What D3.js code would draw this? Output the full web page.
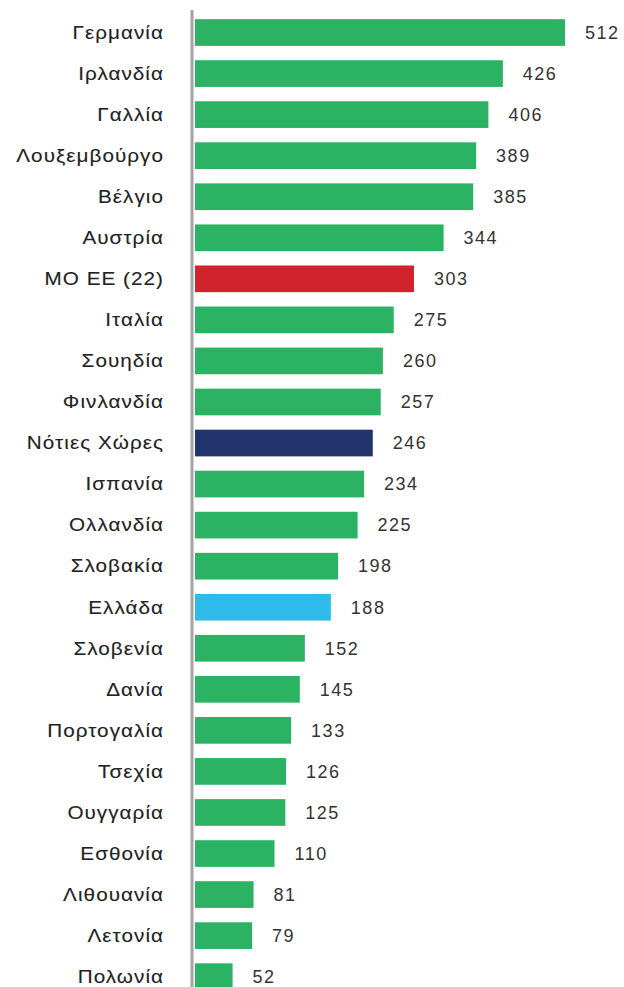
<!DOCTYPE html>
<html><head><meta charset="utf-8">
<script src="https://cdn.jsdelivr.net/npm/d3@7"></script>
<style>
html,body{margin:0;padding:0;background:#fff;}
svg{display:block;}
text{font-family:"Liberation Sans",Arial,sans-serif;}
</style></head>
<body>
<svg id="chart" width="624" height="987"></svg>
<script>
const categories = ["Γερμανία","Ιρλανδία","Γαλλία","Λουξεμβούργο","Βέλγιο","Αυστρία","ΜΟ ΕΕ (22)","Ιταλία","Σουηδία","Φινλανδία","Νότιες Χώρες","Ισπανία","Ολλανδία","Σλοβακία","Ελλάδα","Σλοβενία","Δανία","Πορτογαλία","Τσεχία","Ουγγαρία","Εσθονία","Λιθουανία","Λετονία","Πολωνία"];
const values = [512,426,406,389,385,344,303,275,260,257,246,234,225,198,188,152,145,133,126,125,110,81,79,52];
const colors = ["#2bb262","#2bb262","#2bb262","#2bb262","#2bb262","#2bb262","#d0232b","#2bb262","#2bb262","#2bb262","#22346c","#2bb262","#2bb262","#2bb262","#2ebbea","#2bb262","#2bb262","#2bb262","#2bb262","#2bb262","#2bb262","#2bb262","#2bb262","#2bb262"];

const svg = d3.select("#chart");
const x0 = 195;
const x = d3.scaleLinear().domain([0,512]).range([x0,565]);
const step = 41.05;
const y = d3.scaleBand().domain(categories).range([12, 12+step*categories.length]).paddingInner(0.35).paddingOuter(0.175);

svg.selectAll("rect.bar").data(values).join("rect")
  .attr("class","bar")
  .attr("x", x(0))
  .attr("y", (d,i)=>y(categories[i]))
  .attr("width", d=>x(d)-x(0))
  .attr("height", y.bandwidth())
  .attr("fill", (d,i)=>colors[i]);

svg.append("line").attr("x1",192).attr("x2",192).attr("y1",10).attr("y2",987)
  .attr("stroke","#a3a3a3").attr("stroke-width",3);

svg.selectAll("g.cat").data(categories).join("g")
  .attr("class","cat")
  .attr("transform", d=>`translate(164,${y(d)+y.bandwidth()/2}) scale(1.15,1)`)
  .append("text")
  .attr("x",0)
  .attr("dy","0.35em")
  .attr("text-anchor","end")
  .attr("font-size",18)
  .attr("letter-spacing","0.9px")
  .attr("fill","#222")
  .attr("stroke","#222").attr("stroke-width",0.1)
  .text(d=>d);

svg.selectAll("text.val").data(values).join("text")
  .attr("class","val")
  .attr("x", d=>x(d)+20)
  .attr("y", (d,i)=>y(categories[i])+y.bandwidth()/2)
  .attr("dy","0.35em")
  .attr("font-size",18)
  .attr("letter-spacing","1.5px")
  .attr("fill","#333")
  .text(d=>d);
</script>
</body></html>
